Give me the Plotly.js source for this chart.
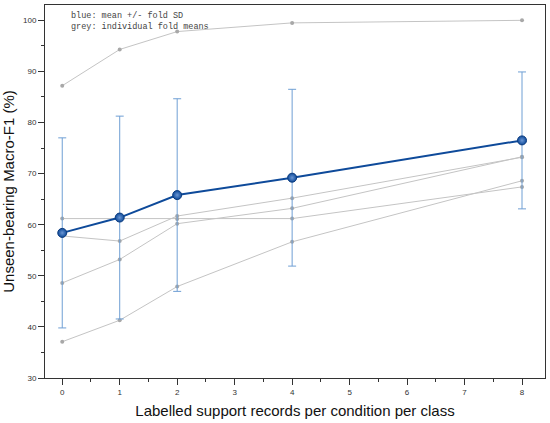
<!DOCTYPE html>
<html>
<head>
<meta charset="utf-8">
<script src="https://cdn.plot.ly/plotly-3.0.1.min.js"></script>
<style>html,body{margin:0;padding:0;background:#fff;}#chart{width:550px;height:423px;}</style>
</head>
<body>
<div id="chart"></div>
<script>
const supportK = [0, 1, 2, 4, 8];
const meanF1 = [58.4, 61.4, 65.8, 69.2, 76.5];
const sdF1 = [18.6, 19.85, 18.85, 17.3, 13.4];
const fold1 = [87.2, 94.3, 97.8, 99.5, 100.0];
const fold2 = [61.2, 61.2, 61.1, 61.2, 67.4];
const fold3 = [57.8, 56.8, 61.7, 65.2, 73.2];
const fold4 = [48.6, 53.2, 60.2, 63.2, 73.3];
const fold5 = [37.1, 41.3, 47.9, 56.65, 68.6];
const folds = [fold1, fold2, fold3, fold4, fold5];
const xTickVals = [0, 1, 2, 3, 4, 5, 6, 7, 8];
const yTickVals = [30, 40, 50, 60, 70, 80, 90, 100];

const traces = folds.map(f => ({
  x: supportK, y: f, type: 'scatter', mode: 'lines+markers',
  line: {color: '#c4c4c4', width: 1},
  marker: {color: '#a8a8a8', size: 4},
  hoverinfo: 'skip', showlegend: false
}));
traces.push({
  x: supportK, y: meanF1, type: 'scatter', mode: 'lines+markers',
  line: {color: '#0e4a9a', width: 2},
  marker: {color: '#0e4a9a', size: 9, gradient: {type: 'radial', color: '#6a96d4'}, line: {color: '#0a3a7e', width: 1}},
  error_y: {type: 'data', array: sdF1, visible: true, color: '#6f9fd4', thickness: 1, width: 4},
  showlegend: false
});

const layout = {
  width: 550, height: 423,
  margin: {l: 45, r: 5, t: 5, b: 45},
  paper_bgcolor: '#fff', plot_bgcolor: '#fff',
  font: {family: 'Liberation Sans, Arial, sans-serif', color: '#222'},
  xaxis: {
    range: [-0.3, 8.4], tickvals: xTickVals, ticks: 'outside', ticklen: 6, tickcolor: '#333',
    minor: {dtick: 0.5, tick0: 0, ticks: 'outside', ticklen: 3, tickcolor: '#333'},
    showgrid: false, zeroline: false, showline: true, linecolor: '#333', linewidth: 1, mirror: true,
    tickfont: {size: 8, color: '#333'},
    title: {text: 'Labelled support records per condition per class', font: {size: 15, color: '#111'}, standoff: 9}
  },
  yaxis: {
    range: [30, 103], tickvals: yTickVals, ticks: 'outside', ticklen: 6, tickcolor: '#333',
    minor: {dtick: 5, tick0: 30, ticks: 'outside', ticklen: 3, tickcolor: '#333'},
    showgrid: false, zeroline: false, showline: true, linecolor: '#333', linewidth: 1, mirror: true,
    tickfont: {size: 8, color: '#333'},
    title: {text: 'Unseen-bearing Macro-F1 (%)', font: {size: 15, color: '#111'}, standoff: 6}
  },
  annotations: [{
    xref: 'paper', yref: 'paper', x: 0.048, y: 0.99, xanchor: 'left', yanchor: 'top', align: 'left',
    showarrow: false,
    text: 'blue: mean +/- fold SD<br>grey: individual fold means',
    font: {family: 'Liberation Mono, Courier New, monospace', size: 8.5, color: '#444'}
  }]
};
Plotly.newPlot('chart', traces, layout, {displayModeBar: false, staticPlot: true});
</script>
</body>
</html>
